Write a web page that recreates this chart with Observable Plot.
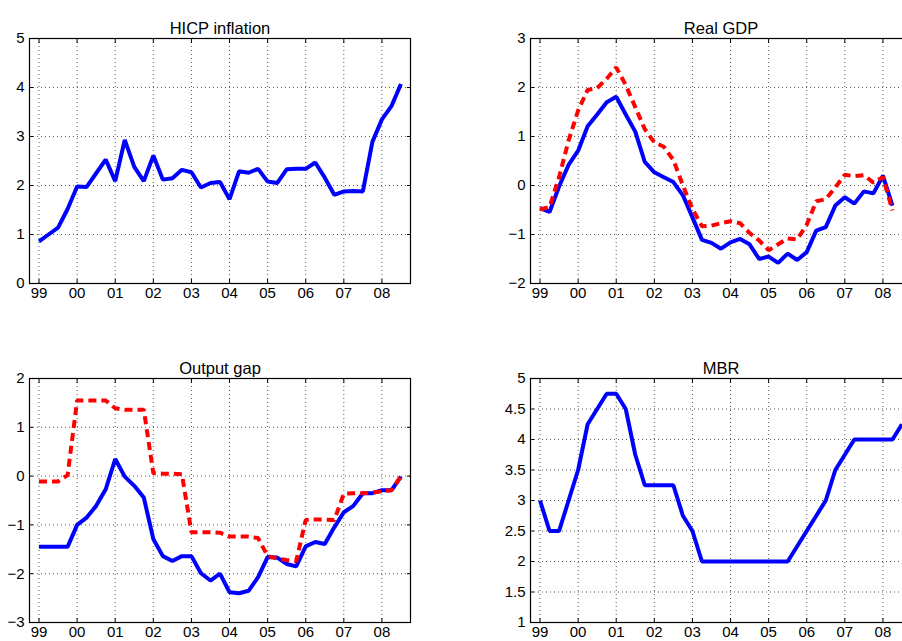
<!DOCTYPE html>
<html><head><meta charset="utf-8">
<script src="https://cdn.jsdelivr.net/npm/d3@7"></script>
<script src="https://cdn.jsdelivr.net/npm/@observablehq/plot@0.6"></script>
<style>
html,body{margin:0;padding:0;background:#fff;overflow:hidden}
#wrap{position:relative;width:902px;height:641px;overflow:hidden;background:#fff}
#wrap svg{position:absolute}
</style></head><body><div id="wrap"></div>
<script>
// x: quarter index, 0 = 1999Q1
const yearLabels = ["99","00","01","02","03","04","05","06","07","08"];
const yearTickQuarter = [0,4,8,12,16,20,24,28,32,36];

const hicp = [0.86,1.0,1.14,1.52,1.98,1.97,2.25,2.53,2.09,2.93,2.38,2.09,2.61,2.12,2.15,2.32,2.27,1.96,2.05,2.07,1.72,2.29,2.26,2.34,2.08,2.05,2.33,2.34,2.34,2.47,2.16,1.81,1.88,1.89,1.88,2.89,3.35,3.62,4.07];

const gdpActual = [-0.46,-0.54,-0.02,0.42,0.71,1.21,1.45,1.70,1.81,1.45,1.10,0.48,0.27,0.17,0.07,-0.20,-0.65,-1.11,-1.17,-1.29,-1.16,-1.09,-1.20,-1.50,-1.45,-1.58,-1.39,-1.52,-1.36,-0.92,-0.85,-0.41,-0.24,-0.37,-0.12,-0.16,0.20,-0.41];
const gdpAlt = [-0.49,-0.44,0.17,0.92,1.53,1.95,1.99,2.18,2.41,2.05,1.60,1.15,0.88,0.79,0.52,0.00,-0.48,-0.83,-0.82,-0.77,-0.73,-0.77,-0.97,-1.12,-1.32,-1.20,-1.08,-1.10,-0.80,-0.32,-0.28,-0.04,0.22,0.19,0.21,0.06,0.17,-0.51];

const gapActual = [-1.45,-1.45,-1.45,-1.45,-1.0,-0.85,-0.61,-0.27,0.35,-0.01,-0.20,-0.44,-1.29,-1.64,-1.74,-1.64,-1.64,-1.99,-2.14,-2.00,-2.38,-2.40,-2.35,-2.07,-1.66,-1.67,-1.80,-1.85,-1.44,-1.35,-1.39,-1.05,-0.74,-0.61,-0.35,-0.35,-0.29,-0.29,-0.01];
const gapAlt = [-0.11,-0.11,-0.11,0.02,1.55,1.55,1.55,1.55,1.39,1.36,1.36,1.36,0.06,0.05,0.05,0.04,-1.15,-1.15,-1.15,-1.16,-1.24,-1.24,-1.24,-1.27,-1.64,-1.69,-1.72,-1.74,-0.90,-0.89,-0.89,-0.90,-0.36,-0.35,-0.35,-0.34,-0.31,-0.29,0.00];

const mbr = [3.0,2.5,2.5,3.0,3.5,4.25,4.5,4.75,4.75,4.5,3.75,3.25,3.25,3.25,3.25,2.75,2.5,2.0,2.0,2.0,2.0,2.0,2.0,2.0,2.0,2.0,2.0,2.25,2.5,2.75,3.0,3.5,3.75,4.0,4.0,4.0,4.0,4.0,4.25];

const titles = ["HICP inflation","Real GDP","Output gap","MBR"];

const BLUE = "#0000ff", RED = "#ff0000";
const FONT = "'Liberation Sans', Arial, Helvetica, sans-serif";
const fmt = (d) => String(d).replace("-", "\u2212");

function panel({title, solid, dashed, yDomain, yTicks, left, top, width, height, ml, mr, mt, mb}) {
  const grid = {stroke: "#000", strokeOpacity: 0.65, strokeWidth: 1, strokeDasharray: "1,3"};
  const marks = [
    Plot.gridX(yearTickQuarter, grid),
    Plot.gridY(yTicks, grid),
    Plot.axisX(yearTickQuarter, {anchor: "bottom", tickSize: -4, tickPadding: 8, label: null,
      tickFormat: (d) => yearLabels[yearTickQuarter.indexOf(d)]}),
    Plot.axisX(yearTickQuarter, {anchor: "top", tickSize: -4, label: null, tickFormat: () => ""}),
    Plot.axisY(yTicks, {anchor: "left", tickSize: -4, tickPadding: 9, label: null, tickFormat: fmt}),
    Plot.axisY(yTicks, {anchor: "right", tickSize: -4, label: null, tickFormat: () => ""}),
    Plot.lineY(solid, {x: (d, i) => i, y: (d) => d, stroke: BLUE, strokeWidth: 4, strokeLinejoin: "miter", strokeLinecap: "butt"})
  ];
  if (dashed) marks.push(Plot.lineY(dashed, {x: (d, i) => i, y: (d) => d, stroke: RED, strokeWidth: 4, strokeDasharray: "8,5", strokeLinejoin: "miter", strokeLinecap: "butt"}));
  marks.push(Plot.frame({stroke: "#000", strokeWidth: 1.2}));
  marks.push(Plot.text([title], {frameAnchor: "top", dy: -16, fontSize: 16.5, fill: "#000"}));
  const svg = Plot.plot({
    width, height, marginLeft: ml, marginRight: mr, marginTop: mt, marginBottom: mb,
    style: {fontFamily: FONT, fontSize: "15px", color: "#000", background: "transparent", overflow: "visible"},
    x: {domain: [-1, 39]},
    y: {domain: yDomain},
    marks
  });
  svg.style.left = left + "px";
  svg.style.top = top + "px";
  document.getElementById("wrap").appendChild(svg);
}

panel({title: titles[0], solid: hicp, yDomain: [0, 5], yTicks: [0,1,2,3,4,5],
  left: 0, top: 0, width: 451, height: 330, ml: 29, mr: 41, mt: 38, mb: 47});
panel({title: titles[1], solid: gdpActual, dashed: gdpAlt, yDomain: [-2, 3], yTicks: [-2,-1,0,1,2,3],
  left: 451, top: 0, width: 500, height: 330, ml: 79, mr: 40, mt: 38, mb: 47});
panel({title: titles[2], solid: gapActual, dashed: gapAlt, yDomain: [-3, 2], yTicks: [-3,-2,-1,0,1,2],
  left: 0, top: 330, width: 451, height: 311, ml: 29, mr: 41, mt: 48, mb: 19});
panel({title: titles[3], solid: mbr, yDomain: [1, 5], yTicks: [1,1.5,2,2.5,3,3.5,4,4.5,5],
  left: 451, top: 330, width: 500, height: 311, ml: 79, mr: 40, mt: 48, mb: 19});
</script>
</body></html>
